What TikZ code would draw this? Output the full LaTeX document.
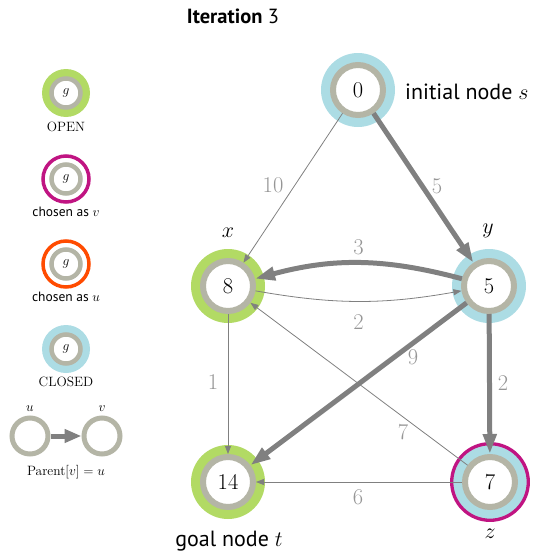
\documentclass[tikz,border=0pt]{standalone}
\usepackage{fix-cm}
\usepackage{fontspec}
\newfontfamily\sansf{PT Sans}
\usetikzlibrary{arrows.meta}
\definecolor{opengreen}{RGB}{178,218,100}
\definecolor{closedblue}{RGB}{172,220,228}
\definecolor{ringgray}{RGB}{180,181,166}
\definecolor{vmag}{RGB}{192,20,130}
\definecolor{uorange}{RGB}{255,75,0}
\definecolor{edgegray}{RGB}{128,128,128}
\definecolor{lblgray}{RGB}{150,150,150}
\tikzset{
  gnode/.style={circle, draw=ringgray, line width=6pt, fill=white, minimum size=50pt, inner sep=0pt, font=\fontsize{22.5}{24}\selectfont},
  lnode/.style={circle, draw=ringgray, line width=4.5pt, fill=white, minimum size=29pt, inner sep=0pt, font=\fontsize{13.5}{14}\selectfont},
  pnode/.style={circle, draw=ringgray, line width=5pt, fill=white, minimum size=36pt, inner sep=0pt},
  thinedge/.style={draw=edgegray, line width=0.8pt, -{Triangle[length=8pt,width=6pt]}},
  thickedge/.style={draw=edgegray, line width=5pt, -{Triangle[length=20pt,width=13pt]}},
  lbl/.style={text=lblgray, font=\fontsize{22.5}{24}\selectfont, inner sep=0pt},
  vname/.style={font=\fontsize{22}{24}\selectfont, inner sep=0pt},
  sanslbl/.style={font=\fontsize{22}{24}\sansf, inner sep=0pt},
  legtext/.style={font=\fontsize{13.5}{15}\selectfont, inner sep=0pt},
  legsans/.style={font=\fontsize{13.5}{15}\sansf, inner sep=0pt}
}
\begin{document}
\begin{tikzpicture}[x=1pt,y=1pt]
\useasboundingbox (0,0) rectangle (533,-554);
% title
\node[font=\fontsize{20.5}{22}\sansf, inner sep=0pt] (title) at (233,-16) {\textbf{Iteration} 3};
% positions
\coordinate (ps) at (358,-90);
\coordinate (px) at (228,-286);
\coordinate (py) at (489,-286);
\coordinate (pt) at (228,-482);
\coordinate (pz) at (490,-482);
% backgrounds
\fill[closedblue] (ps) circle[radius=37];
\fill[opengreen] (px) circle[radius=37];
\fill[closedblue] (py) circle[radius=37];
\fill[opengreen] (pt) circle[radius=37];
\fill[closedblue] (pz) circle[radius=37.5];
\draw[vmag, line width=3.3pt] (pz) circle[radius=38.3];
% nodes
\node[gnode] (s) at (ps) {0};
\node[gnode] (x) at (px) {8};
\node[gnode] (y) at (py) {5};
\node[gnode] (t) at (pt) {14};
\node[gnode] (z) at (pz) {7};
% node names
\node[sanslbl, anchor=west] (sname) at (405,-92) {initial node $s$};
\node[vname] (xname) at (228,-233) {$x$};
\node[vname] (yname) at (488,-231) {$y$};
\node[vname] (zname) at (490,-534) {$z$};
\node[sanslbl] (tname) at (229,-541) {goal node $t$};
% edges
\draw[thinedge] (s) -- node[lbl, pos=0.5, xshift=-20pt, yshift=2.5pt] (l10) {10} (x);
\draw[thickedge] (s) -- node[lbl, pos=0.5, xshift=13.5pt, yshift=2pt] (l5) {5} (y);
\draw[thickedge] (y) to[bend right=15] node[lbl, pos=0.5, yshift=16pt] (l3) {3} (x);
\draw[thinedge] (x) to[bend right=10] node[lbl, pos=0.5, yshift=-21pt] (l2a) {2} (y);
\draw[thinedge] (x) -- node[lbl, pos=0.5, xshift=-15pt, yshift=1.5pt] (l1) {1} (t);
\draw[thickedge] (y) -- node[lbl, pos=0.5, xshift=13.5pt, yshift=1pt] (l2b) {2} (z);
\draw[thinedge] (z) -- node[lbl, pos=0.3, xshift=0.6pt, yshift=-16pt] (l7) {7} (x);
\draw[thickedge] (y) -- node[lbl, pos=0.25, xshift=0.5pt, yshift=-13.6pt] (l9) {9} (t);
\draw[thinedge] (z) -- node[lbl, pos=0.5, xshift=-1pt, yshift=-15pt] (l6) {6} (t);
% legend
\coordinate (qo) at (66,-93);
\coordinate (qv) at (66,-179);
\coordinate (qu) at (66,-264);
\coordinate (qc) at (66,-349);
\fill[opengreen] (qo) circle[radius=24];
\draw[vmag, line width=3.5pt] (qv) circle[radius=23];
\draw[uorange, line width=3.5pt] (qu) circle[radius=23];
\fill[closedblue] (qc) circle[radius=24];
\node[lnode] (go) at (qo) {$g$};
\node[lnode] (gv) at (qv) {$g$};
\node[lnode] (gu) at (qu) {$g$};
\node[lnode] (gc) at (qc) {$g$};
\node[legtext] (topen) at (66,-127) {OPEN};
\node[legsans] (tv) at (66,-212) {chosen as $v$};
\node[legsans] (tu) at (66,-297) {chosen as $u$};
\node[legtext] (tclosed) at (66,-382) {CLOSED};
\node[pnode] (u) at (30,-436) {};
\node[pnode] (v) at (102,-436) {};
\node[legtext] (uname) at (30,-409) {$u$};
\node[legtext] (vname2) at (102,-409) {$v$};
\draw[draw=edgegray, line width=5pt, -{Triangle[length=17pt,width=13pt]}] (u) -- (v);
\node[legtext] (parent) at (66,-472) {Parent$[v] = u$};
\end{tikzpicture}
\end{document}
